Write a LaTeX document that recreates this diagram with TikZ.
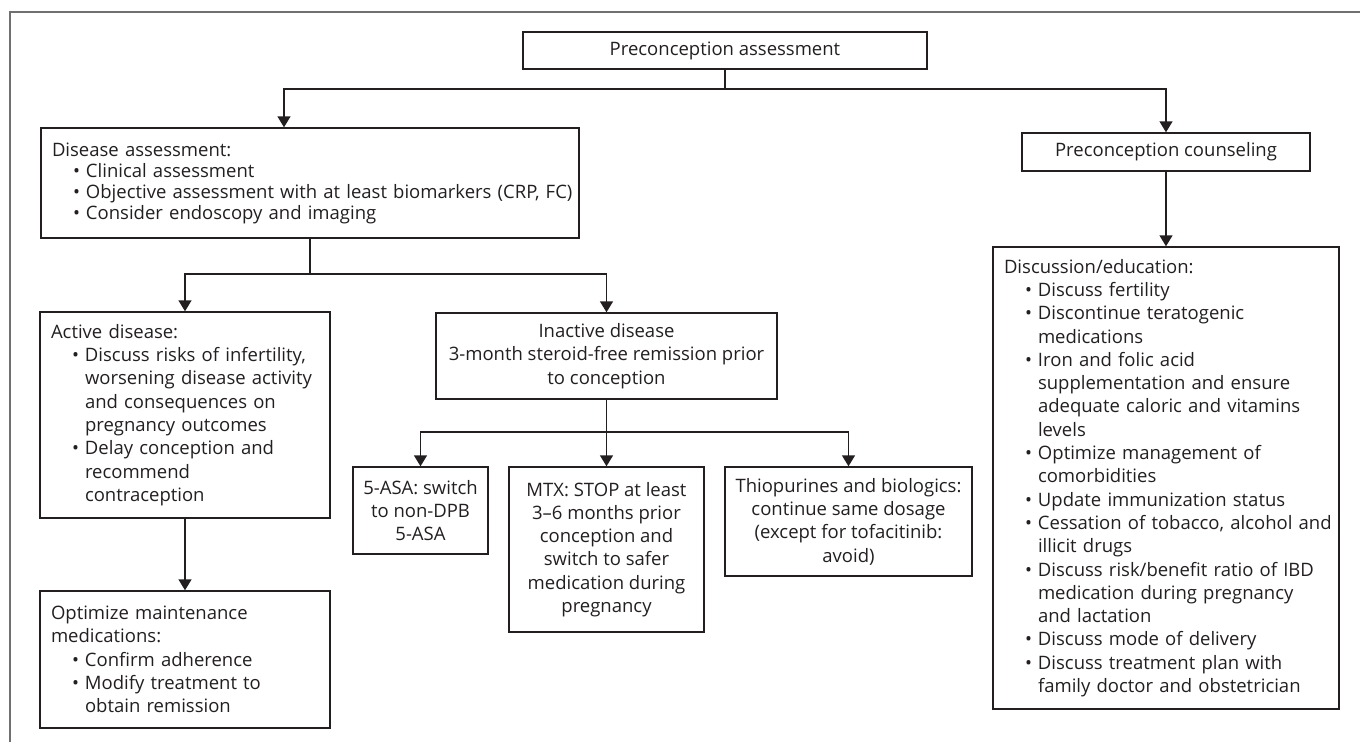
\documentclass[tikz,border=0pt]{standalone}
\usepackage{fontspec}
\setmainfont{Open Sans}
\usetikzlibrary{arrows.meta,calc}
\definecolor{ink}{HTML}{231F20}
\definecolor{framegray}{HTML}{707070}
\newcommand\bul[1]{\mbox{\hspace*{21pt}\makebox[13pt][l]{\textbullet}#1}}
\newcommand\cont[1]{\mbox{\hspace*{34pt}#1}}
\begin{document}
\begin{tikzpicture}[x=1pt,y=-1pt,
  box/.style={draw=ink, line width=1.4pt, text=ink, inner ysep=0pt,
    font=\fontsize{18.5}{23.3}\selectfont},
  lbox/.style={box, align=left, inner xsep=11pt},
  cbox/.style={box, align=center, inner xsep=0pt},
  conn/.style={draw=ink, line width=1.4pt},
  arr/.style={conn, -{Triangle[width=13pt,length=11pt]}},
  framel/.style={draw=framegray, line width=2pt}
  ]
\useasboundingbox (0,0) rectangle (1360,742);
% outer frame (partial)
\draw[framel] (10,742) -- (10,12) -- (1360,12);

% nodes
\node[cbox, minimum width=404pt, minimum height=37pt] (pa) at (725,50.5) {Preconception assessment};
\node[lbox, text width=516pt, minimum height=110pt, font=\fontsize{18.5}{21}\selectfont] (dis) at (310,183) {Disease assessment:\\
\bul{Clinical assessment}\\
\bul{Objective assessment with at least biomarkers (CRP, FC)}\\
\bul{Consider endoscopy and imaging}};
\node[cbox, minimum width=288pt, minimum height=38pt] (pc) at (1166,152) {Preconception counseling};
\node[lbox, text width=324pt, minimum height=462pt] (disc) at (1166,478) {Discussion/education:\\
\bul{Discuss fertility}\\
\bul{Discontinue teratogenic}\\
\cont{medications}\\
\bul{Iron and folic acid}\\
\cont{supplementation and ensure}\\
\cont{adequate caloric and vitamins}\\
\cont{levels}\\
\bul{Optimize management of}\\
\cont{comorbidities}\\
\bul{Update immunization status}\\
\bul{Cessation of tobacco, alcohol and}\\
\cont{illicit drugs}\\
\bul{Discuss risk/benefit ratio of IBD}\\
\cont{medication during pregnancy}\\
\cont{and lactation}\\
\bul{Discuss mode of delivery}\\
\bul{Discuss treatment plan with}\\
\cont{family doctor and obstetrician}};
\node[lbox, text width=268pt, minimum height=206pt] (act) at (185,415) {Active disease:\\
\bul{Discuss risks of infertility,}\\
\cont{worsening disease activity}\\
\cont{and consequences on}\\
\cont{pregnancy outcomes}\\
\bul{Delay conception and}\\
\cont{recommend}\\
\cont{contraception}};
\node[lbox, text width=268pt, minimum height=137pt] (opt) at (185,659.5) {Optimize maintenance\\
medications:\\
\bul{Confirm adherence}\\
\bul{Modify treatment to}\\
\cont{obtain remission}};
\node[cbox, minimum width=341pt, minimum height=86pt] (inact) at (606.5,356) {Inactive disease\\3-month steroid-free remission prior\\to conception};
\node[cbox, minimum width=135pt, minimum height=87pt] (asa) at (420.5,510.5) {5-ASA: switch\\to non-DPB\\5-ASA};
\node[cbox, minimum width=195pt, minimum height=165pt] (mtx) at (606.5,549.5) {MTX: STOP at least\\3--6 months prior\\conception and\\switch to safer\\medication during\\pregnancy};
\node[cbox, minimum width=247pt, minimum height=109pt] (thio) at (848.5,521.5) {Thiopurines and biologics:\\continue same dosage\\(except for tofacitinib:\\avoid)};

% junctions
\coordinate (j1) at (725,89);
\coordinate (j2) at (310,274);
\coordinate (j3) at (606.5,432);

% connectors
\draw[conn] (pa.south) -- (j1);
\draw[arr] (j1) -| ([xshift=-26pt]dis.north);
\draw[arr] (j1) -| (pc.north);
\draw[arr] (pc.south) -- (disc.north);
\draw[conn] (dis.south) -- (j2);
\draw[arr] (j2) -| (act.north);
\draw[arr] (j2) -| (inact.north);
\draw[arr] (act.south) -- (opt.north);
\draw[conn] (inact.south) -- (j3);
\draw[arr] (j3) -| (asa.north);
\draw[arr] (j3) -- (mtx.north);
\draw[arr] (j3) -| (thio.north);
\end{tikzpicture}
\end{document}
